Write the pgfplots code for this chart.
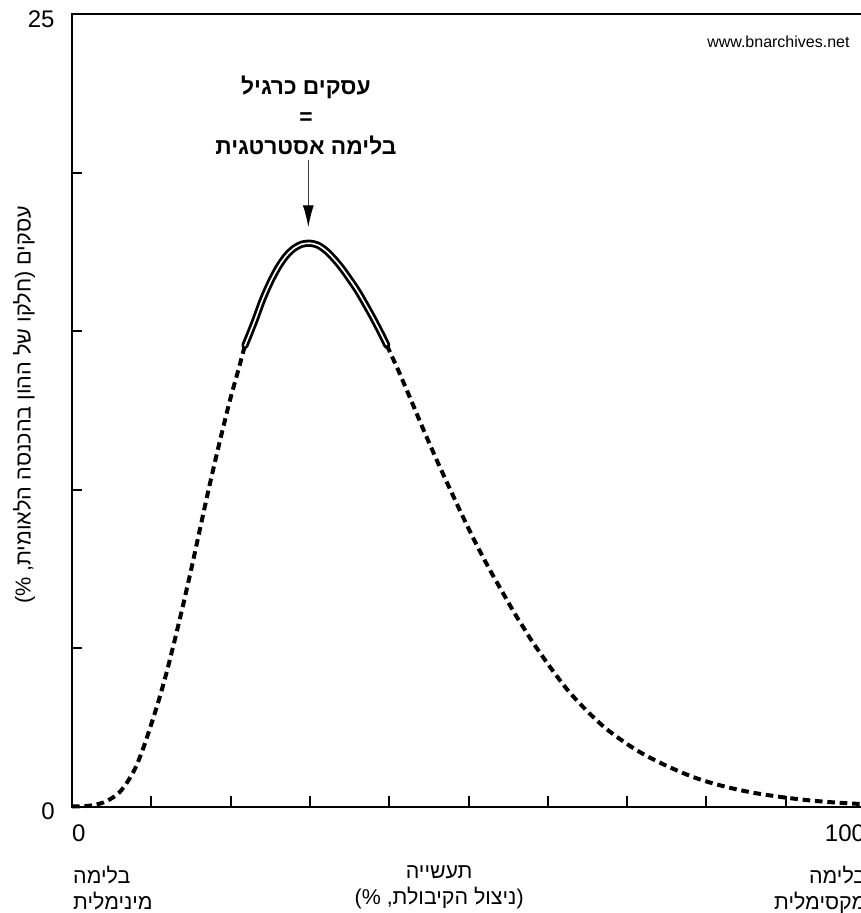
\documentclass[border=0pt]{standalone}
\usepackage{fontspec}
\setmainfont{Liberation Sans}
\newfontfamily\hebfont[Script=Hebrew]{Liberation Sans}
\TeXXeTstate=1
\usepackage{pgfplots}
\pgfplotsset{compat=1.18}
\usetikzlibrary{arrows.meta}

\begin{document}
\begin{tikzpicture}
\begin{axis}[
  name=ax, at={(0,0)}, anchor=south west,
  scale only axis,
  width=396.5pt, height=396pt,
  xmin=0, xmax=100, ymin=0, ymax=25,
  axis line style={line width=1pt},
  every tick/.style={line width=1pt, black},
  major tick length=5pt,
  tick align=inside,
  xtick={0,10,...,100}, xtick pos=bottom,
  ytick={0,5,...,25}, ytick pos=left,
  xticklabels={\makebox[0pt][l]{0},,,,,,,,,,\makebox[0pt][r]{100}},
  yticklabels={0,,,,,25},
  xticklabel style={anchor=north, inner sep=0pt, yshift=-9pt, font=\fontsize{12}{14}\selectfont},
  yticklabel style={anchor=east, inner sep=0pt, xshift=-8.5pt, yshift=-2.5pt, font=\fontsize{12}{14}\selectfont},
  /pgf/number format/assume math mode=true,
  clip=false,
]
% left dashed part
\addplot[black, line width=2pt, dash pattern=on 3.8pt off 2.4pt, smooth] table [x=x, y=y] {
x y
0 0
2 0.02
3 0.06
4 0.13
5 0.26
6 0.45
7 0.78
8 1.22
9 1.85
10 2.6
11 3.4
12 4.3
13 5.3
14 6.35
15 7.45
16 8.6
17 9.75
18 10.85
19 11.9
20 12.9
21 13.8
21.8 14.55
};
% solid double part
\addplot[black, line width=1.4pt, double=white, double distance=0.8pt, line cap=round, smooth] table [x=x, y=y] {
x y
21.8 14.55
23 15.3
24 15.98
25 16.55
26 17.02
27 17.38
28 17.62
29 17.75
30 17.78
31 17.72
32 17.55
33 17.3
34 17.0
35 16.65
36 16.28
37 15.85
38 15.4
39 14.92
39.7 14.56
};
% right dashed part
\addplot[black, line width=2pt, dash pattern=on 3.8pt off 2.4pt, smooth] table [x=x, y=y] {
x y
39.7 14.56
41 13.85
42 13.27
43 12.68
44 12.08
45 11.5
46 10.93
47 10.38
48 9.84
49 9.3
50 8.78
51 8.27
52 7.79
53 7.33
54 6.89
55 6.45
56 6.02
57 5.62
58 5.22
59 4.86
60 4.5
61 4.16
62 3.83
63 3.53
64 3.26
65 3.0
66 2.76
67 2.53
68 2.33
70 1.97
72 1.66
74 1.4
76 1.17
78 0.96
80 0.79
82 0.65
84 0.53
86 0.43
88 0.35
90 0.28
92 0.22
94 0.17
96 0.13
98 0.1
100 0.07
};

% annotation
\node[anchor=north, align=center, inner sep=0pt, font=\hebfont\bfseries\fontsize{11.4}{15}\selectfont]
  at (axis cs:29.5,23.07) {\beginR עסקים כרגיל\endR\\=\\\beginR בלימה אסטרטגית\endR};
\draw[black!75, line width=0.6pt, -{Latex[length=11pt,width=5.5pt,black]}] (axis cs:29.8,20.4) -- (axis cs:29.8,18.28);

% watermark
\node[anchor=base east, inner sep=0pt, font=\fontsize{8}{10}\selectfont] at (axis cs:98.1,23.96) {www.bnarchives.net};

% y label
\node[rotate=90, anchor=center, inner sep=0pt, font=\hebfont\fontsize{10.8}{13}\selectfont]
  at (axis cs:-6.05,12.67) {\beginR עסקים (\kern0pt חלקו של ההון בהכנסה הלאומית\kern0pt, \%\kern0pt)\endR};

% x category labels
\node[anchor=north west, align=left, inner sep=0pt, yshift=-29.5pt, font=\hebfont\fontsize{10.7}{13}\selectfont]
  at (axis cs:0.1,0) {\beginR בלימה\endR\\\beginR מינימלית\endR};
\node[anchor=north, align=center, inner sep=0pt, yshift=-29.5pt, font=\hebfont\fontsize{10.7}{13}\selectfont]
  at (axis cs:46.3,0) {\beginR תעשייה\endR\\\beginR (\kern0pt ניצול הקיבולת\kern0pt, \%\kern0pt)\endR};
\node[anchor=north east, align=right, inner sep=0pt, yshift=-29.5pt, font=\hebfont\fontsize{10.7}{13}\selectfont]
  at (axis cs:100.2,0) {\beginR בלימה\endR\\\beginR מקסימלית\endR};
\end{axis}
\pgfresetboundingbox
\path[use as bounding box] (-36pt,-53.25pt) rectangle (394pt,403.25pt);
\end{tikzpicture}
\end{document}
